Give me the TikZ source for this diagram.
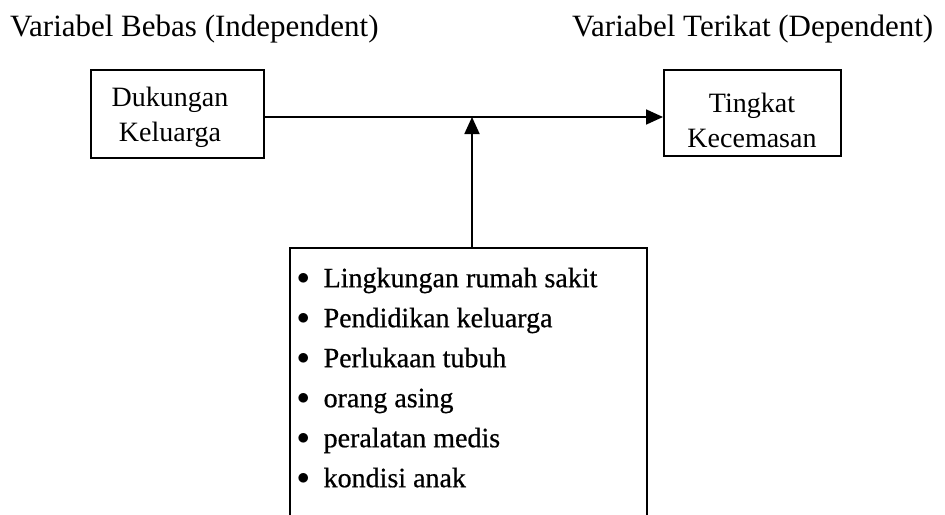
\documentclass[tikz,border=0pt]{standalone}
\usepackage{fontspec}
\setmainfont{Liberation Serif}
\usetikzlibrary{arrows.meta}
\newcommand{\bul}{\raisebox{3pt}{$\bullet$}}
\begin{document}
\begin{tikzpicture}[x=1pt,y=-1pt,
  box/.style={draw, line width=1.8pt, inner sep=0pt, anchor=north west},
  boxtext/.style={align=center, font=\fontsize{28}{35}\selectfont, inner sep=0pt},
  title/.style={anchor=base west, inner sep=0pt, font=\fontsize{31}{36}\selectfont},
  arr/.style={line width=1.8pt, -{Triangle[length=17pt,width=15pt]}}]
\useasboundingbox (0,0) rectangle (945,514);
\clip (0,0) rectangle (945,514);
\fill[white] (0,0) rectangle (945,514);
% titles
\node[title] (t1) at (10,36) {Variabel Bebas (Independent)};
\node[title] (t2) at (572,36) {Variabel Terikat (Dependent)};
% boxes
\node[box, minimum width=173pt, minimum height=88pt] (lbox) at (90,69) {};
\node[boxtext] (ltext) at (170,117) {Dukungan\\Keluarga};
\node[box, minimum width=177pt, minimum height=86pt] (rbox) at (663,69) {};
\node[boxtext] (rtext) at (752,120) {Tingkat\\Kecemasan};
\node[box, minimum width=357pt, minimum height=290pt] (fbox) at (289,247) {};
\node[anchor=north west, inner sep=0pt, font=\fontsize{28}{40}\selectfont\addfontfeature{FakeBold=0.6}] (list) at (297,259)
 {\begin{tabular}{@{}l@{\hspace{14pt}}l@{}}
  \bul & Lingkungan rumah sakit\\
  \bul & Pendidikan keluarga\\
  \bul & Perlukaan tubuh\\
  \bul & orang asing\\
  \bul & peralatan medis\\
  \bul & kondisi anak
  \end{tabular}};
% connectors
\coordinate (j) at (472,117);
\draw[arr] (lbox.east |- j) -- (rbox.west |- j);
\draw[arr] (fbox.north -| j) -- (j);
\end{tikzpicture}
\end{document}
